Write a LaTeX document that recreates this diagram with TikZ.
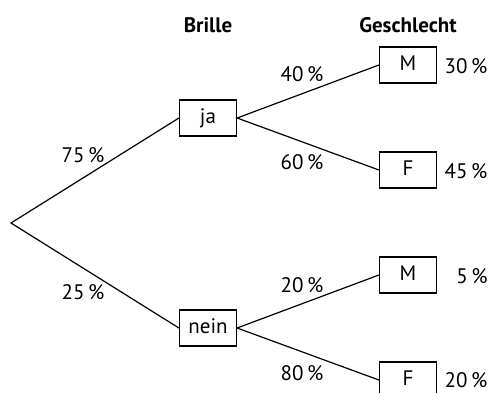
\documentclass[tikz,border=0pt]{standalone}
\usepackage{fontspec}
\setmainfont{PT Sans}
\usetikzlibrary{positioning}

\begin{document}
\begin{tikzpicture}[x=1pt,y=-1pt,
  font=\fontsize{21}{24}\selectfont,
  box/.style={draw,line width=1.2pt,minimum width=57pt,minimum height=36pt,
    inner sep=0pt,text height=14pt,text depth=3pt},
  pct/.style={inner sep=0pt,text height=14pt,text depth=0pt},
  branch/.style={line width=1.2pt}]
  \useasboundingbox (0,0) rectangle (489,392);
  \clip (0,0) rectangle (489,392);

  % headings
  \node[pct,font=\fontsize{21}{24}\selectfont\bfseries] (hBrille) at (208,25) {Brille};
  \node[pct,font=\fontsize{21}{24}\selectfont\bfseries] (hGeschlecht) at (408,25) {Geschlecht};

  % tree
  \coordinate (root) at (11,223);
  \node[box] (ja)    at (208,118) {ja};
  \node[box] (nein)  at (208,328) {nein};
  \node[box] (jaM)   at (408,65)  {M};
  \node[box] (jaF)   at (408,170) {F};
  \node[box] (neinM) at (408,275) {M};
  \node[box] (neinF) at (408,380) {F};

  \draw[branch] (ja.west) -- (root) -- (nein.west);
  \draw[branch] (jaM.west) -- (ja.east) -- (jaF.west);
  \draw[branch] (neinM.west) -- (nein.east) -- (neinF.west);

  % branch probabilities
  \node[pct] (pJa)     at (83,155)  {75\,\%};
  \node[pct] (pNein)   at (83,292)  {25\,\%};
  \node[pct] (pJaM)    at (302,74)  {40\,\%};
  \node[pct] (pJaF)    at (302,162) {60\,\%};
  \node[pct] (pNeinM)  at (302,285) {20\,\%};
  \node[pct] (pNeinF)  at (302,373) {80\,\%};

  % path probabilities
  \node[pct] (rJaM)    at (466,66)  {30\,\%};
  \node[pct] (rJaF)    at (466,171) {45\,\%};
  \node[pct] (rNeinM)  at (472,276) {5\,\%};
  \node[pct] (rNeinF)  at (466,380) {20\,\%};
\end{tikzpicture}
\end{document}
